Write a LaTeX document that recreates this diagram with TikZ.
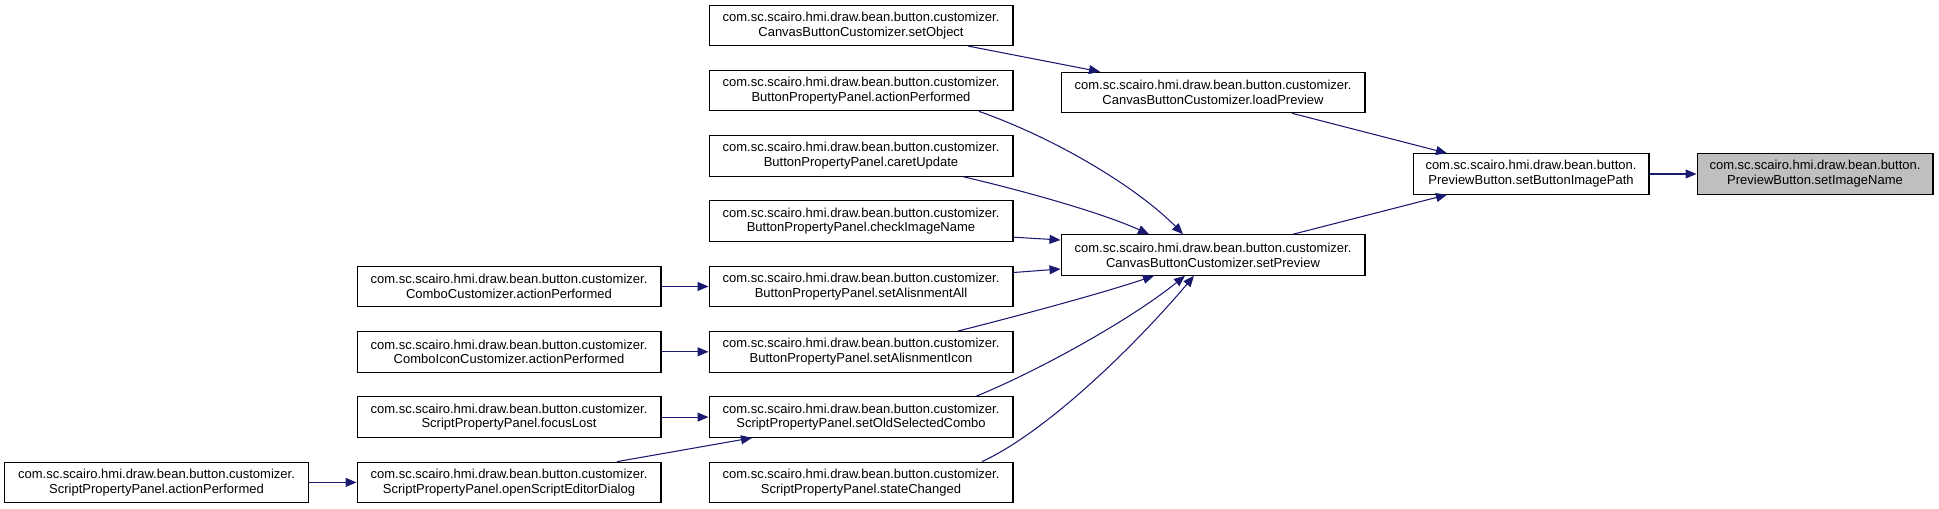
\documentclass[tikz,border=0pt]{standalone}
\usepackage{fontspec}
\setmainfont{Liberation Sans}
\usepackage{xcolor}
\usepackage{tikz}
\usetikzlibrary{arrows.meta,calc}
\definecolor{edgeblue}{HTML}{191970}
\definecolor{selgray}{HTML}{BFBFBF}

\begin{document}
\begin{tikzpicture}[
  x=0.02cm, y=-0.02cm,
  box/.style={draw, line width=0.6pt, minimum height=0.81cm,
              inner sep=0pt, align=center, fill=white,
              font=\fontsize{7.4}{8.4}\selectfont},
  cust/.style={box, minimum width=6.08cm},
  btn/.style={box, minimum width=4.72cm},
  cur/.style={btn, fill=selgray},
  arr/.style={draw=edgeblue, line width=0.6pt,
              -{Triangle[length=0.22cm, width=0.18cm]}},
]
\useasboundingbox (0,0) rectangle (1939,509);
% --- Callee (col 0) and its caller (col 1) ---
\node[cur] (sel) at (1815, 174) {com.sc.scairo.hmi.draw.bean.button.\\PreviewButton.setImageName};
\node[btn] (bp)  at (1531, 174) {com.sc.scairo.hmi.draw.bean.button.\\PreviewButton.setButtonImagePath};
\draw[arr] (bp) -- (sel);
% --- CanvasButtonCustomizer (col 2) ---
\node[cust] (lp) at (1213, 92.5) {com.sc.scairo.hmi.draw.bean.button.customizer.\\CanvasButtonCustomizer.loadPreview};
\node[cust] (sp) at (1213, 255) {com.sc.scairo.hmi.draw.bean.button.customizer.\\CanvasButtonCustomizer.setPreview};
\draw[arr] ($(lp.south)+(79,0)$) -- ($(bp.north)+(-84,0)$);
\draw[arr] ($(sp.north)+(80,0)$) -- ($(bp.south)+(-84,0)$);
% --- Callers of loadPreview / setPreview (col 3) ---
\node[cust] (so)   at (861, 25.3)  {com.sc.scairo.hmi.draw.bean.button.customizer.\\CanvasButtonCustomizer.setObject};
\node[cust] (bap)  at (861, 90.6)  {com.sc.scairo.hmi.draw.bean.button.customizer.\\ButtonPropertyPanel.actionPerformed};
\node[cust] (cu)   at (861, 155.9) {com.sc.scairo.hmi.draw.bean.button.customizer.\\ButtonPropertyPanel.caretUpdate};
\node[cust] (cin)  at (861, 221.2) {com.sc.scairo.hmi.draw.bean.button.customizer.\\ButtonPropertyPanel.checkImageName};
\node[cust] (saa)  at (861, 286.5) {com.sc.scairo.hmi.draw.bean.button.customizer.\\ButtonPropertyPanel.setAlisnmentAll};
\node[cust] (sai)  at (861, 351.8) {com.sc.scairo.hmi.draw.bean.button.customizer.\\ButtonPropertyPanel.setAlisnmentIcon};
\node[cust] (sosc) at (861, 417.1) {com.sc.scairo.hmi.draw.bean.button.customizer.\\ScriptPropertyPanel.setOldSelectedCombo};
\node[cust] (sc)   at (861, 482.4) {com.sc.scairo.hmi.draw.bean.button.customizer.\\ScriptPropertyPanel.stateChanged};
\draw[arr] ($(so.south)+(107,0)$) -- ($(lp.north)+(-113,0)$);
\draw[arr] ($(bap.south)+(118,0)$) .. controls (1060,140) and (1140,190) .. ($(sp.north)+(-30,0)$);
\draw[arr] ($(cu.south)+(102,0)$) .. controls (1020,190) and (1100,212) .. ($(sp.north)+(-64,0)$);
\draw[arr] ($(cin.east)+(0,16)$) -- ($(sp.west)+(0,-15)$);
\draw[arr] ($(saa.east)+(0,-14)$) -- ($(sp.west)+(0,14)$);
\draw[arr] ($(sai.north)+(97,0)$) .. controls (1010,318) and (1100,294) .. ($(sp.south)+(-59,0)$);
\draw[arr] ($(sosc.north)+(115,0)$) .. controls (1040,370) and (1130,320) .. ($(sp.south)+(-28,0)$);
\draw[arr] ($(sc.north)+(121,0)$) .. controls (1050,430) and (1140,340) .. ($(sp.south)+(-19,0)$);
% --- Outer callers (col 4) ---
\node[cust] (cc)  at (509, 286.5) {com.sc.scairo.hmi.draw.bean.button.customizer.\\ComboCustomizer.actionPerformed};
\node[cust] (cic) at (509, 351.8) {com.sc.scairo.hmi.draw.bean.button.customizer.\\ComboIconCustomizer.actionPerformed};
\node[cust] (fl)  at (509, 417.1) {com.sc.scairo.hmi.draw.bean.button.customizer.\\ScriptPropertyPanel.focusLost};
\node[cust] (ose) at (509, 482.4) {com.sc.scairo.hmi.draw.bean.button.customizer.\\ScriptPropertyPanel.openScriptEditorDialog};
\draw[arr] (cc) -- (saa);
\draw[arr] (cic) -- (sai);
\draw[arr] (fl) -- (sosc);
\draw[arr] ($(ose.north)+(108,0)$) -- ($(sosc.south)+(-109,0)$);
% --- Leftmost caller (col 5) ---
\node[cust] (spa) at (156.5, 482.4) {com.sc.scairo.hmi.draw.bean.button.customizer.\\ScriptPropertyPanel.actionPerformed};
\draw[arr] (spa) -- (ose);
\end{tikzpicture}
\end{document}
